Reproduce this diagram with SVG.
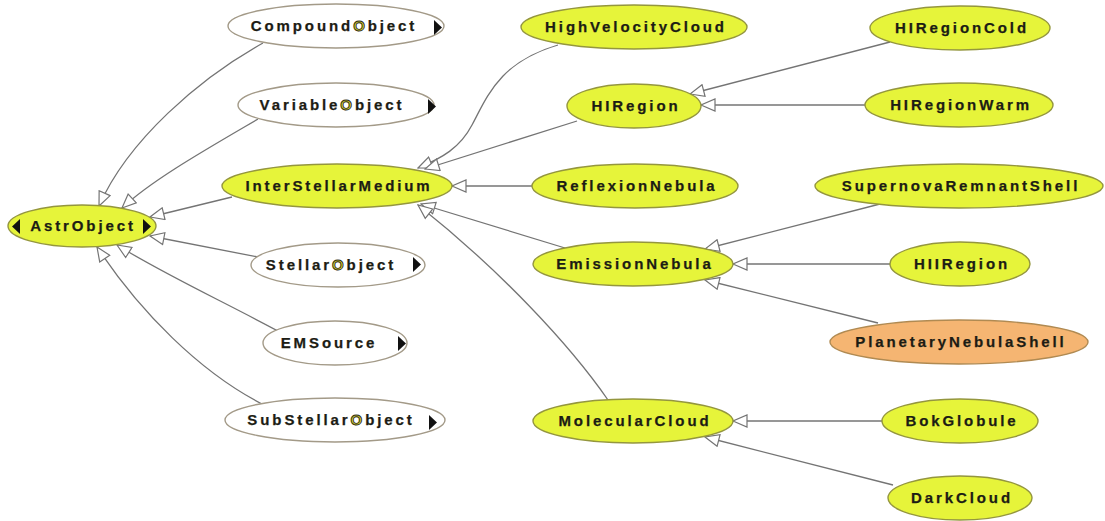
<svg xmlns="http://www.w3.org/2000/svg" width="1105" height="521" viewBox="0 0 1105 521">
  <style>
    .n ellipse { stroke-width: 1.4; }
    .cls ellipse { fill: #e6f43a; stroke: #94963e; }
    .ref ellipse { fill: #ffffff; stroke: #a39a88; }
    .hl ellipse { fill: #f5b572; stroke: #b08a52; }
    .n text { font-family: "Liberation Sans", Arial, sans-serif; font-weight: bold; font-size: 15px; letter-spacing: 2.9px; fill: #1c1c14; stroke: #1c1c14; stroke-width: 0.25px; text-anchor: middle; }
    .n .o { fill: #d6cc2a; stroke: #2a2a18; stroke-width: 0.9px; }
    .tri { fill: #111111; }
    #edges path { fill: none; stroke: #747474; stroke-width: 1.3; marker-end: url(#isa); }
  </style>
  <defs>
    <marker id="isa" viewBox="0 0 16 14" refX="15" refY="7" markerWidth="16" markerHeight="14" markerUnits="userSpaceOnUse" orient="auto">
      <path d="M15,7 L1,1 L1,13 Z" fill="#ffffff" stroke="#747474" stroke-width="1.2" stroke-linejoin="miter"/>
    </marker>
  </defs>
  <rect width="1105" height="521" fill="#ffffff"/>

  <g id="edges">
    <!-- subclasses of AstrObject -->
    <path d="M263,43 C200,78 128,140 99,206"/>
    <path d="M258,119 C205,150 152,180 122,208"/>
    <path d="M232,197 L150,217"/>
    <path d="M258,257 L150,236"/>
    <path d="M278,331 C220,300 160,272 117,245"/>
    <path d="M262,404 C200,372 140,312 97,247"/>
    <!-- subclasses of InterStellarMedium -->
    <path d="M558,45 C500,62 488,95 472,125 C460,148 442,158 418,168"/>
    <path d="M577,121 L425,169"/>
    <path d="M532,186 L452,186"/>
    <path d="M565,248 L421,204"/>
    <path d="M608,400 C570,345 500,270 418,205"/>
    <!-- subclasses of HIRegion -->
    <path d="M890,42 L690,94"/>
    <path d="M865,105 L701,105"/>
    <!-- subclasses of EmissionNebula -->
    <path d="M880,204 L705,249"/>
    <path d="M890,264 L733,264"/>
    <path d="M878,323 L705,280"/>
    <!-- subclasses of MolecularCloud -->
    <path d="M883,421 L733,421"/>
    <path d="M893,485 L705,437"/>
  </g>

  <g id="AstrObject" class="n cls">
    <ellipse cx="82" cy="226" rx="74" ry="21"/>
    <text x="83" y="231">AstrObject</text>
    <path class="tri" d="M20,219 L12,226.5 L20,234 Z"/>
    <path class="tri" d="M143,219 L151,226.5 L143,234 Z"/>
  </g>

  <g id="CompoundObject" class="n ref">
    <ellipse cx="336" cy="26" rx="108" ry="22"/>
    <text x="334" y="31">Compound<tspan class="o">O</tspan>bject</text>
    <path class="tri" d="M434,20 L442,27.5 L434,35 Z"/>
  </g>
  <g id="VariableObject" class="n ref">
    <ellipse cx="336" cy="105" rx="98" ry="22"/>
    <text x="332" y="110">Variable<tspan class="o">O</tspan>bject</text>
    <path class="tri" d="M428,99 L436,106.5 L428,114 Z"/>
  </g>
  <g id="InterStellarMedium" class="n cls">
    <ellipse cx="337" cy="186" rx="115" ry="22"/>
    <text x="339" y="191">InterStellarMedium</text>
  </g>
  <g id="StellarObject" class="n ref">
    <ellipse cx="338" cy="265" rx="87" ry="22"/>
    <text x="331" y="270">Stellar<tspan class="o">O</tspan>bject</text>
    <path class="tri" d="M413,257 L421,264.5 L413,272 Z"/>
  </g>
  <g id="EMSource" class="n ref">
    <ellipse cx="335" cy="343" rx="72" ry="22"/>
    <text x="329" y="348">EMSource</text>
    <path class="tri" d="M398,336 L406,343.5 L398,351 Z"/>
  </g>
  <g id="SubStellarObject" class="n ref">
    <ellipse cx="335" cy="420" rx="110" ry="22"/>
    <text x="331" y="425">SubStellar<tspan class="o">O</tspan>bject</text>
    <path class="tri" d="M429,415 L437,422.5 L429,430 Z"/>
  </g>

  <g id="HighVelocityCloud" class="n cls">
    <ellipse cx="634" cy="27" rx="113" ry="22"/>
    <text x="636" y="32">HighVelocityCloud</text>
  </g>
  <g id="HIRegion" class="n cls">
    <ellipse cx="634" cy="106" rx="67" ry="22"/>
    <text x="636" y="111">HIRegion</text>
  </g>
  <g id="ReflexionNebula" class="n cls">
    <ellipse cx="635" cy="186" rx="103" ry="22"/>
    <text x="637" y="191">ReflexionNebula</text>
  </g>
  <g id="EmissionNebula" class="n cls">
    <ellipse cx="633" cy="264" rx="100" ry="22"/>
    <text x="635" y="269">EmissionNebula</text>
  </g>
  <g id="MolecularCloud" class="n cls">
    <ellipse cx="633" cy="421" rx="100" ry="22"/>
    <text x="635" y="426">MolecularCloud</text>
  </g>

  <g id="HIRegionCold" class="n cls">
    <ellipse cx="960" cy="28" rx="90" ry="22"/>
    <text x="962" y="33">HIRegionCold</text>
  </g>
  <g id="HIRegionWarm" class="n cls">
    <ellipse cx="959" cy="105" rx="94" ry="22"/>
    <text x="961" y="110">HIRegionWarm</text>
  </g>
  <g id="SupernovaRemnantShell" class="n cls">
    <ellipse cx="959" cy="186" rx="144" ry="22"/>
    <text x="961" y="191">SupernovaRemnantShell</text>
  </g>
  <g id="HIIRegion" class="n cls">
    <ellipse cx="960" cy="264" rx="70" ry="22"/>
    <text x="962" y="269">HIIRegion</text>
  </g>
  <g id="PlanetaryNebulaShell" class="n hl">
    <ellipse cx="959" cy="342" rx="129" ry="22"/>
    <text x="961" y="347">PlanetaryNebulaShell</text>
  </g>
  <g id="BokGlobule" class="n cls">
    <ellipse cx="960" cy="421" rx="78" ry="22"/>
    <text x="962" y="426">BokGlobule</text>
  </g>
  <g id="DarkCloud" class="n cls">
    <ellipse cx="960" cy="498" rx="72" ry="22"/>
    <text x="962" y="503">DarkCloud</text>
  </g>
</svg>
